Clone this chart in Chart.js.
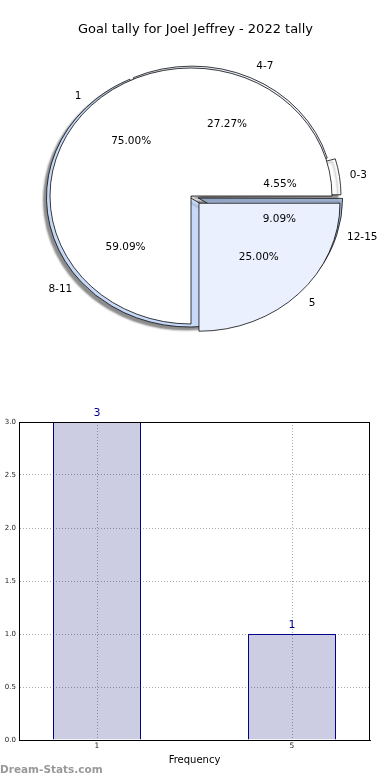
<!DOCTYPE html>
<html>
<head>
<meta charset="utf-8">
<title>Goal tally</title>
<script src="https://cdn.jsdelivr.net/npm/chart.js@4.4.0/dist/chart.umd.min.js"></script>
<style>
    html, body { margin: 0; padding: 0; background: #fff; }
    #khung { position: relative; width: 390px; height: 780px; overflow: hidden; }
    #bieudotron { position: absolute; left: 0; top: 0; }
    #bieudocot { position: absolute; left: 0; top: 390px; }
</style>
</head>
<body>
<div id="khung">
    <canvas id="bieudotron" width="390" height="390"></canvas>
    <canvas id="bieudocot" width="390" height="390"></canvas>
</div>
<script>
const titleText = 'Goal tally for Joel Jeffrey - 2022 tally';

// goals per game -> number of games
const tallyLabels = ['1', '5'];
const tallyCounts = [3, 1];

// goal ranges
const rangeLabels = ['0-3', '4-7', '8-11', '12-15'];
const rangeCounts = [1, 6, 13, 2];

const yTicks = [0, 0.5, 1, 1.5, 2, 2.5, 3];

Chart.defaults.font.family = '"DejaVu Sans", sans-serif';

// the pie is a bit flattened in the picture
const squash = 128 / 141;

function reversed(arr) {
    return arr.slice().reverse();
}

function drawPieTexts(ctx, arcs, labels, counts) {
    var total = counts.reduce(function (a, b) { return a + b; }, 0);
    ctx.save();
    ctx.fillStyle = '#000';
    ctx.font = '10.5px "DejaVu Sans"';
    ctx.textBaseline = 'middle';
    arcs.forEach(function (arc, i) {
        var mid = (arc.startAngle + arc.endAngle) / 2;
        var shift = (arc.options.offset || 0) / 4;
        var cos = Math.cos(mid);
        var sin = Math.sin(mid);
        var R = arc.outerRadius;

        var d = R * 1.1 + shift;
        ctx.textAlign = cos >= 0 ? 'left' : 'right';
        ctx.fillText(labels[i], arc.x + d * cos, arc.y + d * sin * squash);

        d = R * 0.6 + shift;
        ctx.textAlign = 'center';
        ctx.fillText((counts[i] / total * 100).toFixed(2) + '%', arc.x + d * cos, arc.y + d * sin * squash);
    });
    ctx.restore();
}

/* both pies on the same spot, the range pie underneath with a shadow */
const pieLook = {
    id: 'pieLook',
    afterUpdate(chart) {
        var R = chart.getDatasetMeta(0).controller.outerRadius;
        chart.data.datasets.forEach(function (ds, i) {
            chart.getDatasetMeta(i).data.forEach(function (arc) {
                arc.innerRadius = 0;
                arc.outerRadius = R;
            });
        });
    },
    beforeDatasetsDraw(chart) {
        var arc = chart.getDatasetMeta(0).data[0];
        var ctx = chart.ctx;
        ctx.save();
        ctx.translate(arc.x, arc.y);
        ctx.scale(1, squash);
        ctx.translate(-arc.x, -arc.y);
    },
    beforeDatasetDraw(chart, args) {
        if (args.index !== 1) return;
        var ctx = chart.ctx;
        ctx.save();
        ctx.shadowColor = 'rgba(0, 0, 0, 0.45)';
        ctx.shadowOffsetX = -3;
        ctx.shadowOffsetY = 3;
        ctx.shadowBlur = 2;
    },
    afterDatasetDraw(chart, args) {
        if (args.index === 1) chart.ctx.restore();
    },
    afterDatasetsDraw(chart) {
        var ctx = chart.ctx;
        ctx.restore();
        drawPieTexts(ctx, chart.getDatasetMeta(1).data, reversed(rangeLabels), reversed(rangeCounts));
        drawPieTexts(ctx, chart.getDatasetMeta(0).data, reversed(tallyLabels), reversed(tallyCounts));
    },
    afterDraw(chart) {
        var ctx = chart.ctx;
        ctx.save();
        ctx.fillStyle = '#000';
        ctx.font = '13px "DejaVu Sans"';
        ctx.textAlign = 'center';
        ctx.textBaseline = 'middle';
        ctx.fillText(titleText, 195.5, 30);
        ctx.restore();
    }
};

const piechart = document.getElementById('bieudotron');

// matplotlib goes counter clockwise from 3 o'clock, chart.js clockwise -> reverse
new Chart(piechart, {
    type: 'pie',
    data: {
        labels: reversed(rangeLabels),
        datasets: [{
            data: reversed(tallyCounts),
            backgroundColor: reversed(['#ffffff', '#eaf0fd']),
            offset: reversed([0, 45]),
            borderColor: '#000',
            borderWidth: 0.8,
            clip: false
        }, {
            data: reversed(rangeCounts),
            backgroundColor: reversed(['#ffffff', '#eaf0fd', '#c6d9f8', '#a9bedf']),
            offset: reversed([21, 9, 8, 30]),
            borderColor: '#000',
            borderWidth: 0.8,
            clip: false
        }]
    },
    options: {
        responsive: false,
        animation: false,
        events: [],
        rotation: 90,
        radius: 141,
        layout: {
            padding: { left: 50, right: 58, top: 55, bottom: 53 }
        },
        plugins: {
            legend: { display: false },
            tooltip: { enabled: false },
            title: { display: false }
        }
    },
    plugins: [pieLook]
});

/* bar chart */
const barExtras = {
    id: 'barExtras',
    afterDraw(chart) {
        var ctx = chart.ctx;
        var a = chart.chartArea;
        ctx.save();
        ctx.strokeStyle = '#000';
        ctx.lineWidth = 1;
        ctx.strokeRect(Math.round(a.left) + 0.5, Math.round(a.top) + 0.5,
            Math.round(a.right - a.left) - 1, Math.round(a.bottom - a.top));

        ctx.fillStyle = '#00008b';
        ctx.font = '11px "DejaVu Sans"';
        ctx.textAlign = 'center';
        ctx.textBaseline = 'middle';
        chart.getDatasetMeta(0).data.forEach(function (bar, i) {
            ctx.fillText(String(tallyCounts[i]), bar.x, bar.y - 9);
        });

        ctx.fillStyle = '#999';
        ctx.font = 'bold 10.5px "DejaVu Sans"';
        ctx.textAlign = 'left';
        ctx.fillText('Dream-Stats.com', 0, 380);
        ctx.restore();
    }
};

const barchart = document.getElementById('bieudocot');

new Chart(barchart, {
    type: 'bar',
    data: {
        datasets: [{
            data: tallyCounts.map(function (v, i) { return { x: i, y: v }; }),
            backgroundColor: 'rgba(0, 0, 110, 0.2)',
            borderColor: '#00008b',
            borderWidth: 1,
            barPercentage: 0.4513,
            categoryPercentage: 1
        }]
    },
    options: {
        responsive: false,
        animation: false,
        events: [],
        layout: {
            padding: { top: 32, right: 20, left: 0, bottom: 0 }
        },
        plugins: {
            legend: { display: false },
            tooltip: { enabled: false }
        },
        scales: {
            x: {
                type: 'linear',
                offset: false,
                min: -0.4,
                max: 1.4,
                afterBuildTicks: function (scale) {
                    scale.ticks = tallyLabels.map(function (l, i) { return { value: i }; });
                },
                afterFit: function (scale) { scale.height = 40; },
                ticks: {
                    callback: function (v) { return tallyLabels[v]; },
                    font: { size: 7.5 },
                    color: '#222',
                    padding: 2,
                    maxRotation: 0
                },
                grid: { color: '#aaa', drawTicks: false, offset: false },
                border: { color: '#000', dash: [1, 2] },
                title: {
                    display: true,
                    text: 'Frequency',
                    color: '#000',
                    font: { size: 10 },
                    padding: { top: 0, bottom: 14 }
                }
            },
            y: {
                min: 0,
                max: 3,
                afterBuildTicks: function (scale) {
                    scale.ticks = yTicks.map(function (v) { return { value: v }; });
                },
                afterFit: function (scale) { scale.width = 19; },
                ticks: {
                    callback: function (v) { return v.toFixed(1); },
                    font: { size: 7 },
                    color: '#222',
                    padding: 3
                },
                grid: { color: '#aaa', drawTicks: false },
                border: { color: '#000', dash: [1, 2] }
            }
        }
    },
    plugins: [barExtras]
});
</script>
</body>
</html>
